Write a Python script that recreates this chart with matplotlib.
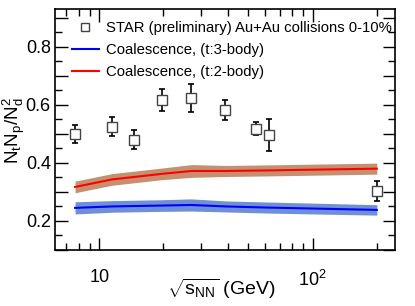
import matplotlib
matplotlib.use("Agg")
import matplotlib.pyplot as plt
from matplotlib.ticker import MultipleLocator, FuncFormatter, LogLocator, NullFormatter

plt.rcParams['font.family'] = ['Liberation Sans', 'DejaVu Sans']
plt.rcParams['mathtext.fontset'] = 'custom'
plt.rcParams['mathtext.rm'] = 'Liberation Sans'
plt.rcParams['mathtext.it'] = 'Liberation Sans'

# STAR preliminary data
star_e = [7.7, 11.5, 14.5, 19.6, 27, 39, 54.4, 62.4, 200]
star_y = [0.500, 0.524, 0.479, 0.617, 0.624, 0.583, 0.517, 0.497, 0.303]
star_err = [0.031, 0.033, 0.033, 0.038, 0.048, 0.034, 0.022, 0.055, 0.036]

# coalescence curves
model_e = [7.7, 11.5, 19.6, 27, 39, 62.4, 200]
body3 = [0.245, 0.250, 0.253, 0.255, 0.250, 0.246, 0.238]
body3_err = [0.021, 0.020, 0.020, 0.021, 0.019, 0.019, 0.018]
body2 = [0.317, 0.343, 0.362, 0.372, 0.372, 0.374, 0.380]
body2_err = [0.020, 0.020, 0.020, 0.022, 0.019, 0.019, 0.019]

lo3 = [v - e for v, e in zip(body3, body3_err)]
hi3 = [v + e for v, e in zip(body3, body3_err)]
lo2 = [v - e for v, e in zip(body2, body2_err)]
hi2 = [v + e for v, e in zip(body2, body2_err)]

fig = plt.figure(figsize=(4.15, 3.06), dpi=100)
ax = fig.add_axes([0.1325, 0.183, 0.819, 0.788])

ax.fill_between(model_e, lo3, hi3, color='#6f90d4', lw=0)
ax.fill_between(model_e, lo2, hi2, color='#c4906f', lw=0)
l3, = ax.plot(model_e, body3, color='#0000ff', lw=1.5)
l2, = ax.plot(model_e, body2, color='#ff0000', lw=1.5)

ax.errorbar(star_e, star_y, yerr=star_err, fmt='none', ecolor='black',
            elinewidth=1.2, capsize=2, capthick=1.2, zorder=4)
pts, = ax.plot(star_e, star_y, 's', ms=6.5, mfc='white', mec='#444444',
               mew=1.0, zorder=5)

ax.set_xscale('log')
ax.set_xlim(6.2, 243)
ax.set_ylim(0.1, 0.93)

ax.set_xticks([10, 100])
ax.set_xticklabels(['10', r'$10^2$'])
ax.xaxis.set_minor_locator(LogLocator(base=10, subs=range(2, 10)))
ax.xaxis.set_minor_formatter(NullFormatter())

ax.yaxis.set_major_locator(MultipleLocator(0.1))
ax.yaxis.set_minor_locator(MultipleLocator(0.05))
ax.yaxis.set_major_formatter(FuncFormatter(
    lambda v, p: '%.1f' % v if round(v * 10) % 2 == 0 else ''))

ax.tick_params(which='both', direction='in', top=True, right=True,
               labelsize=13, width=1)
ax.tick_params(axis='x', which='major', pad=14)
ax.tick_params(axis='y', which='major', pad=3)
ax.tick_params(which='major', length=9)
ax.tick_params(which='minor', length=5)
for s in ax.spines.values():
    s.set_linewidth(1.2)

ax.set_xlabel(r'$\sqrt{\mathrm{s_{NN}}}$ (GeV)', fontsize=14)
ax.xaxis.set_label_coords(0.49, -0.11)
fig.text(0.033, 0.575, r'$\mathrm{N_t N_p/N_d^2}$', fontsize=13.5,
         rotation=90, ha='center', va='center')

ax.legend([pts, l3, l2],
          ['STAR (preliminary) Au+Au collisions 0-10%',
           'Coalescence, (t:3-body)',
           'Coalescence, (t:2-body)'],
          loc='upper left', frameon=False, fontsize=10.7,
          bbox_to_anchor=(0.015, 1.0), handlelength=1.8, handletextpad=0.5,
          markerscale=0.8, labelspacing=0.55, borderaxespad=0.4)

fig.savefig('out.png', dpi=100)
